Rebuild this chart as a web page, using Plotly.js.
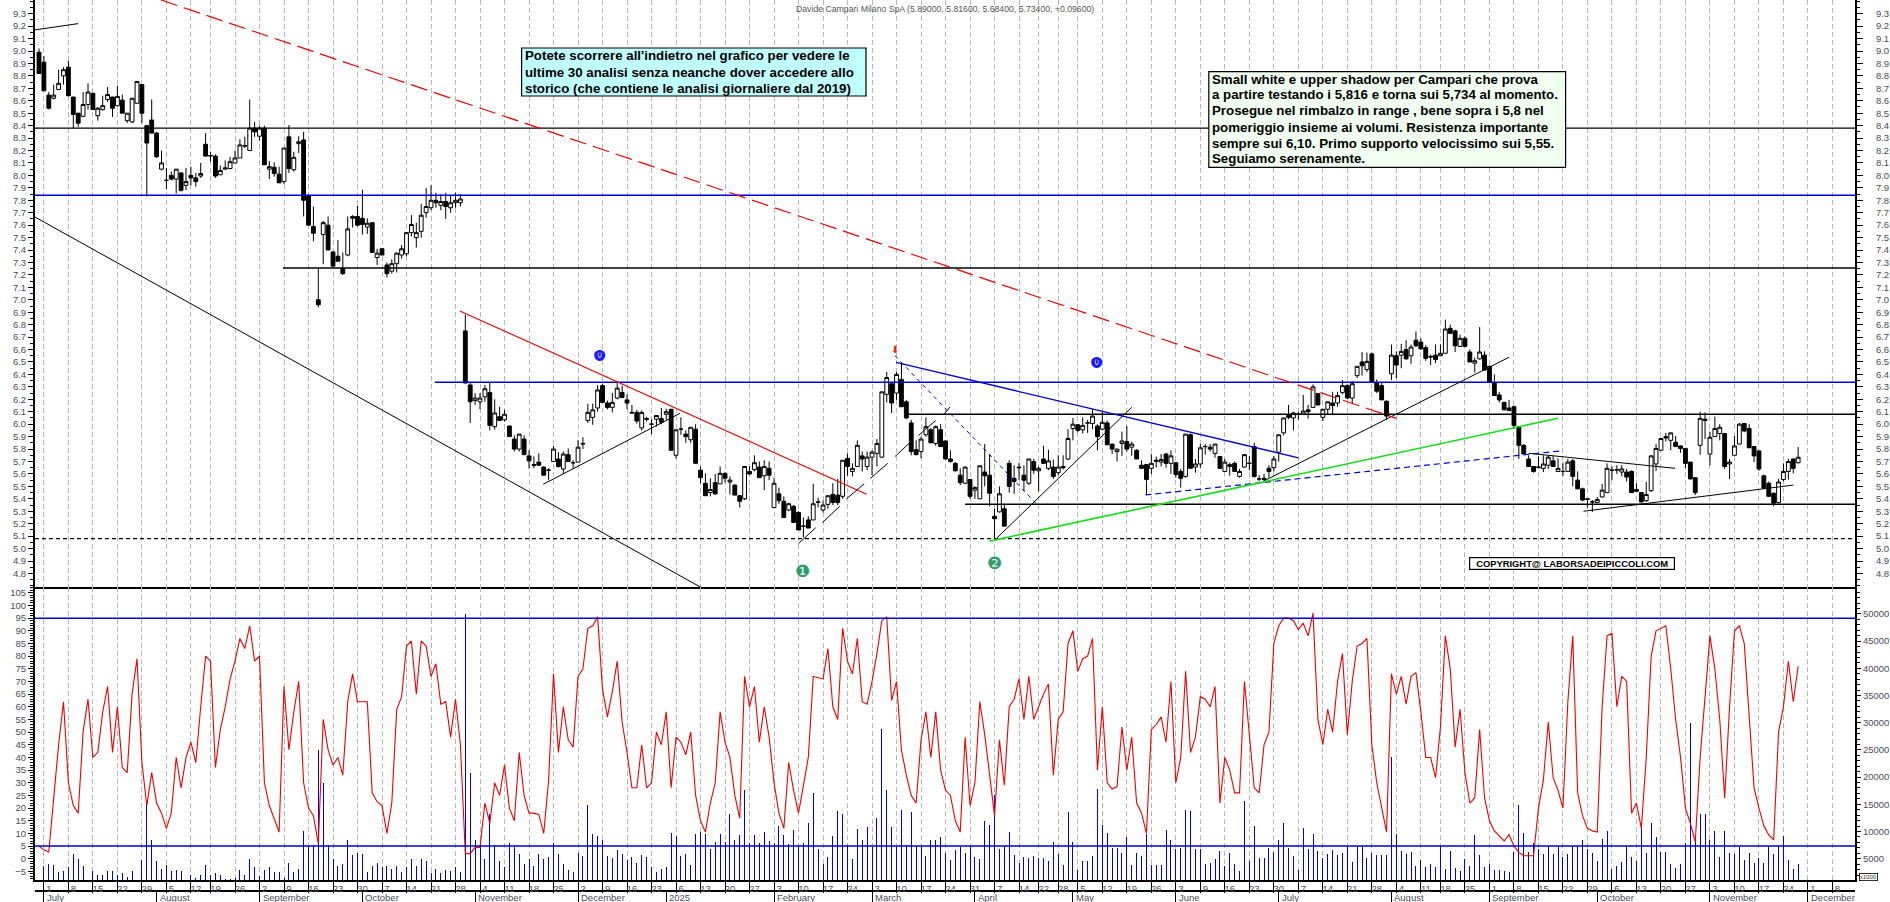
<!DOCTYPE html>
<html><head><meta charset="utf-8">
<script src="https://cdn.plot.ly/plotly-3.0.1.min.js"></script>
<style>html,body{margin:0;padding:0;background:#fff;overflow:hidden}</style>
</head><body><div id="chart" style="width:1890px;height:902px"></div>
<script>
const openP=[8.99,8.91,8.645,8.62,8.69,8.80,8.87,8.63,8.50,8.475,
8.57,8.66,8.48,8.53,8.61,8.63,8.56,8.605,8.44,8.43,
8.58,8.73,8.40,8.445,8.34,8.05,7.96,8.00,7.97,8.02,
7.92,8.00,7.98,7.995,8.25,8.155,8.155,8.005,8.05,8.055,
8.10,8.14,8.235,8.20,8.38,8.315,8.38,8.05,8.065,8.01,
7.95,8.31,8.045,8.255,8.285,7.835,7.59,7.00,7.525,7.60,
7.385,7.35,7.25,7.36,7.655,7.67,7.655,7.585,7.62,7.34,
7.41,7.28,7.23,7.29,7.36,7.37,7.54,7.50,7.55,7.70,
7.74,7.80,7.76,7.79,7.74,7.78,7.78,6.75,6.315,6.19,
6.18,6.22,6.255,5.98,6.06,6.035,5.985,5.88,5.80,5.88,
5.745,5.675,5.695,5.655,5.63,5.70,5.72,5.64,5.755,5.69,
5.695,5.84,6.03,6.055,6.13,6.31,6.17,6.135,6.21,6.255,
6.195,6.095,6.095,5.97,6.045,6.0,6.04,6.045,6.08,6.12,
5.75,5.96,5.92,5.875,5.96,5.63,5.525,5.45,5.53,5.52,
5.605,5.535,5.51,5.425,5.40,5.62,5.635,5.655,5.585,5.645,
5.33,5.44,5.38,5.31,5.34,5.29,5.18,5.23,5.23,5.37,
5.31,5.355,5.435,5.43,5.42,5.725,5.62,5.66,5.745,5.66,
5.735,5.765,5.735,6.24,6.325,6.25,6.36,6.18,6.01,5.795,
5.78,5.915,5.955,5.845,5.955,5.865,5.72,5.685,5.59,5.525,
5.555,5.47,5.40,5.615,5.59,5.26,5.295,5.32,5.685,5.565,
5.655,5.59,5.525,5.70,5.625,5.72,5.645,5.655,5.61,5.66,
5.72,5.965,5.995,5.955,6.01,6.005,5.985,5.96,6.01,5.84,
5.78,5.845,5.86,5.815,5.79,5.67,5.675,5.645,5.70,5.695,
5.76,5.685,5.69,5.62,5.58,5.915,5.655,5.68,5.82,5.815,
5.765,5.74,5.62,5.66,5.685,5.58,5.655,5.685,5.82,5.56,
5.565,5.645,5.65,5.775,5.93,6.07,6.05,6.08,6.08,6.115,
6.135,6.245,6.055,6.12,6.17,6.17,6.255,6.31,6.21,6.39,
6.50,6.44,6.565,6.335,6.31,6.185,6.405,6.55,6.555,6.60,
6.55,6.675,6.66,6.615,6.545,6.555,6.55,6.57,6.77,6.75,
6.625,6.69,6.58,6.49,6.525,6.555,6.465,6.335,6.235,6.175,
6.13,6.14,5.98,5.83,5.72,5.66,5.65,5.645,5.67,5.705,
5.62,5.62,5.62,5.705,5.55,5.48,5.40,5.375,5.37,5.415,
5.45,5.63,5.63,5.615,5.615,5.62,5.475,5.45,5.385,5.465,
5.68,5.79,5.90,5.87,5.855,5.825,5.805,5.695,5.57,5.83,
6.04,5.76,5.90,5.925,5.925,5.68,5.75,5.84,6.005,5.965,
5.82,5.785,5.585,5.525,5.445,5.37,5.555,5.62,5.72,5.69];
const highP=[9.02,8.96,8.67,8.73,8.85,8.87,8.92,8.63,8.50,8.67,
8.74,8.66,8.55,8.64,8.71,8.63,8.72,8.65,8.50,8.62,
8.76,8.73,8.40,8.61,8.35,8.20,8.06,8.03,8.05,8.02,
8.06,8.07,8.02,8.10,8.34,8.19,8.17,8.08,8.12,8.15,
8.20,8.29,8.31,8.61,8.43,8.40,8.40,8.115,8.105,8.07,
8.22,8.405,8.19,8.315,8.35,7.845,7.75,7.25,7.635,7.67,
7.39,7.48,7.38,7.67,7.68,7.755,7.885,7.655,7.62,7.41,
7.415,7.30,7.325,7.38,7.44,7.54,7.68,7.62,7.77,7.90,
7.92,7.86,7.85,7.86,7.84,7.86,7.85,6.88,6.33,6.25,
6.25,6.315,6.337,6.20,6.14,6.115,5.99,5.91,5.92,5.91,
5.79,5.74,5.765,5.66,5.645,5.825,5.775,5.78,5.805,5.71,
5.87,5.895,6.165,6.165,6.315,6.325,6.19,6.25,6.335,6.31,
6.24,6.155,6.115,6.11,6.06,6.04,6.07,6.13,6.125,6.12,
5.955,6.055,5.95,5.975,6.0,5.66,5.605,5.565,5.60,5.66,
5.61,5.58,5.515,5.43,5.66,5.66,5.75,5.70,5.71,5.70,
5.57,5.49,5.42,5.37,5.35,5.30,5.25,5.26,5.52,5.41,
5.385,5.425,5.525,5.56,5.71,5.765,5.685,5.87,5.78,5.78,
5.79,5.88,6.26,6.42,6.325,6.42,6.49,6.195,6.035,5.87,
5.90,6.055,5.97,5.99,6.0,5.87,5.79,5.695,5.645,5.66,
5.56,5.50,5.67,5.84,5.76,5.32,5.50,5.36,5.71,5.67,
5.69,5.67,5.72,5.72,5.66,5.825,5.795,5.715,5.75,5.75,
5.96,6.05,6.0,6.055,6.035,6.12,6.0,6.10,6.03,5.84,
5.80,5.94,5.985,5.86,5.80,5.71,5.68,5.76,5.74,5.76,
5.77,5.79,5.695,5.64,5.92,5.925,5.72,5.84,5.84,5.84,
5.84,5.745,5.72,5.69,5.70,5.64,5.76,5.745,5.85,5.59,
5.60,5.67,5.745,5.915,6.05,6.155,6.10,6.10,6.235,6.155,
6.32,6.25,6.12,6.18,6.26,6.26,6.355,6.32,6.345,6.465,
6.58,6.575,6.575,6.36,6.34,6.19,6.64,6.585,6.645,6.675,
6.64,6.745,6.69,6.635,6.56,6.64,6.64,6.84,6.80,6.76,
6.72,6.705,6.60,6.535,6.78,6.585,6.47,6.40,6.26,6.18,
6.195,6.15,5.985,5.84,5.75,5.66,5.74,5.75,5.745,5.745,
5.725,5.69,5.72,5.72,5.62,5.49,5.405,5.39,5.415,5.52,
5.685,5.66,5.67,5.67,5.64,5.63,5.525,5.45,5.535,5.75,
5.84,5.89,5.93,5.935,5.905,5.83,5.81,5.695,5.57,6.10,
6.095,5.94,6.06,6.0,5.93,5.72,5.905,6.01,6.01,6.0,
5.825,5.79,5.595,5.54,5.45,5.56,5.685,5.72,5.725,5.816];
const lowP=[8.82,8.68,8.53,8.61,8.69,8.73,8.64,8.38,8.39,8.47,
8.53,8.53,8.44,8.52,8.59,8.47,8.56,8.50,8.42,8.42,
8.58,8.42,7.83,8.34,8.14,8.04,7.89,7.96,7.855,7.87,
7.88,7.92,7.91,7.98,8.155,8.11,7.98,8.005,8.05,8.05,
8.10,8.14,8.22,8.20,8.31,8.28,8.085,7.97,7.99,7.94,
7.93,8.02,8.03,8.18,7.67,7.60,7.47,6.94,7.285,7.40,
7.27,7.31,7.20,7.35,7.58,7.59,7.525,7.53,7.38,7.28,
7.36,7.18,7.21,7.22,7.33,7.35,7.51,7.42,7.50,7.66,
7.72,7.74,7.72,7.65,7.70,7.74,7.75,6.33,6.01,6.155,
6.12,6.18,5.95,5.955,6.03,6.02,5.90,5.78,5.78,5.755,
5.645,5.645,5.665,5.59,5.55,5.70,5.65,5.60,5.70,5.645,
5.695,5.80,6.01,5.995,6.10,6.175,6.12,6.095,6.20,6.21,
6.12,6.09,6.005,5.95,6.02,5.92,5.98,6.0,6.035,5.79,
5.725,5.915,5.85,5.85,5.685,5.525,5.425,5.42,5.43,5.52,
5.53,5.435,5.43,5.33,5.39,5.59,5.62,5.57,5.47,5.55,
5.325,5.36,5.25,5.30,5.21,5.15,5.09,5.165,5.23,5.33,
5.29,5.32,5.35,5.35,5.40,5.585,5.58,5.66,5.62,5.63,
5.59,5.66,5.73,6.175,6.09,6.195,6.14,6.04,5.75,5.75,
5.725,5.90,5.85,5.825,5.82,5.72,5.69,5.62,5.51,5.52,
5.40,5.40,5.40,5.50,5.34,5.07,5.29,5.18,5.45,5.44,
5.55,5.46,5.51,5.60,5.46,5.68,5.63,5.56,5.59,5.635,
5.71,5.87,5.935,5.925,5.93,5.96,5.79,5.95,5.83,5.76,
5.70,5.745,5.78,5.745,5.72,5.64,5.43,5.60,5.65,5.66,
5.65,5.60,5.57,5.49,5.57,5.64,5.61,5.65,5.755,5.78,
5.73,5.64,5.615,5.585,5.62,5.57,5.65,5.63,5.57,5.54,
5.54,5.57,5.62,5.70,5.91,6.04,5.95,6.035,6.08,6.045,
6.13,6.15,6.025,6.08,6.08,6.14,6.24,6.20,6.17,6.37,
6.39,6.42,6.33,6.25,6.195,6.035,6.355,6.37,6.45,6.52,
6.485,6.62,6.60,6.51,6.475,6.49,6.55,6.57,6.73,6.58,
6.62,6.62,6.50,6.415,6.52,6.43,6.33,6.23,6.175,6.115,
6.105,5.96,5.72,5.76,5.655,5.61,5.65,5.615,5.64,5.655,
5.615,5.585,5.62,5.50,5.48,5.38,5.33,5.295,5.37,5.41,
5.45,5.55,5.60,5.58,5.54,5.45,5.455,5.37,5.375,5.455,
5.625,5.79,5.86,5.79,5.815,5.77,5.645,5.555,5.43,5.755,
5.88,5.67,5.90,5.87,5.64,5.56,5.75,5.84,5.935,5.81,
5.695,5.625,5.48,5.415,5.34,5.365,5.54,5.555,5.605,5.684];
const closeP=[8.82,8.68,8.54,8.645,8.74,8.85,8.64,8.49,8.42,8.57,
8.67,8.53,8.54,8.56,8.65,8.54,8.635,8.50,8.50,8.62,
8.755,8.50,8.26,8.34,8.15,8.10,7.96,7.97,8.05,7.88,
7.95,7.98,7.95,8.015,8.155,8.16,7.995,8.04,8.06,8.11,
8.14,8.245,8.24,8.38,8.35,8.38,8.085,8.07,8.015,7.94,
8.22,8.055,8.145,8.27,7.80,7.60,7.535,6.96,7.62,7.40,
7.27,7.31,7.21,7.57,7.67,7.60,7.605,7.615,7.38,7.375,
7.36,7.21,7.29,7.375,7.41,7.54,7.605,7.54,7.68,7.75,
7.80,7.78,7.79,7.75,7.78,7.80,7.81,6.33,6.18,6.21,
6.21,6.285,5.99,6.09,6.03,6.08,5.90,5.80,5.92,5.755,
5.705,5.67,5.67,5.59,5.63,5.80,5.66,5.76,5.70,5.69,
5.815,5.845,6.095,6.115,6.275,6.175,6.135,6.175,6.29,6.215,
6.17,6.09,6.025,6.095,6.04,6.0,6.07,6.015,6.10,5.79,
5.955,5.96,5.90,5.975,5.685,5.57,5.425,5.475,5.44,5.605,
5.565,5.55,5.43,5.38,5.66,5.60,5.69,5.57,5.66,5.59,
5.525,5.385,5.25,5.36,5.21,5.15,5.18,5.165,5.36,5.375,
5.35,5.425,5.37,5.37,5.71,5.66,5.645,5.83,5.72,5.735,
5.775,5.845,6.26,6.375,6.17,6.40,6.14,6.05,5.78,5.755,
5.88,5.98,5.85,5.98,5.82,5.72,5.70,5.625,5.53,5.655,
5.42,5.49,5.665,5.585,5.445,5.24,5.44,5.18,5.50,5.54,
5.65,5.55,5.72,5.63,5.645,5.685,5.705,5.58,5.655,5.65,
5.885,6.0,5.95,5.99,6.01,6.065,5.90,6.015,5.835,5.80,
5.80,5.865,5.80,5.84,5.72,5.645,5.555,5.685,5.71,5.715,
5.685,5.745,5.595,5.565,5.92,5.645,5.68,5.81,5.82,5.80,
5.84,5.645,5.695,5.675,5.62,5.62,5.755,5.685,5.58,5.56,
5.555,5.62,5.72,5.915,6.05,6.055,6.09,6.08,6.105,6.10,
6.30,6.155,6.12,6.18,6.15,6.23,6.31,6.21,6.325,6.465,
6.47,6.505,6.34,6.265,6.195,6.065,6.555,6.475,6.585,6.525,
6.62,6.63,6.605,6.53,6.54,6.52,6.57,6.765,6.73,6.63,
6.69,6.625,6.50,6.51,6.58,6.435,6.335,6.23,6.195,6.115,
6.11,5.99,5.83,5.76,5.66,5.62,5.655,5.68,5.735,5.66,
5.645,5.62,5.695,5.58,5.48,5.39,5.395,5.375,5.395,5.47,
5.645,5.63,5.635,5.64,5.575,5.45,5.46,5.375,5.435,5.745,
5.805,5.885,5.89,5.93,5.82,5.805,5.685,5.56,5.45,6.047,
6.03,5.895,5.965,5.975,5.66,5.695,5.825,6.0,5.945,5.81,
5.745,5.64,5.485,5.42,5.365,5.535,5.62,5.70,5.645,5.734];
const oscillator=[5,3.5,2.7,25,45,62,30,21,18,50,
63,40,42,58,68,42,60,36,34,65,
79,38,21,34,22,18,12,18,40,28,
40,46,38,60,80,78,36,51,60,71,
78,87,83,92,78,80,30,21,16,10.5,
68,43,58,70,30,20,17,6,55,43,
37,40,33,62,73,62,62,62,26,22.5,
21,10,22,59,64,84,86,65,86,84,
72,77,61,62,48,63,45,2,2,4.5,
4.5,22,14,30,25,37,20,15,42,25,
18,18,17.5,10,31,73,42,60,47,44,
72,75,91,92,95.5,67,56,66,78,54,
42,28,28,45,28,30,50,45,58,28,
48,46,41,50,25,15,10.5,22,30,58,
46,40,25,16,72,60,68,46,60,48,
30,18,12,38,27,18,29,40,72,71.5,
71,83,60,55,91,78,73,87,62,61,
70,81,94,95.5,62.5,70,43,33,25,22,
47,58,40,58,35,27,25,15,10.5,48,
21,30,62,49,34,17,47,29,60,63,
71,55,72,55,60,65,69,33,55,58,
85,90,74,79,80,87,35,60,30,27.5,
28.5,52,35,48,22,18,10,51,53,56,
46,70,30,40,74,42,48,64,63,60,
68,22,40,35,26,26,70,49,28,26,
45,50,85,92,95,95,94,90.5,93,88,
97,55,45,59,50,70,81,49,70,84,
85,87,45,30,20,10.5,73,65,72,61,
72,73.5,58,40,40,32,52,88,75,44,
59,34,22,24,51,24,15,11,9,7,
9.5,5,2.5,1.2,1.2,1.2,20,31,54,32,
27,20,62,88,26,17,12,11,10.5,60,
88,89,60,72,70,18,22,12,40,80,
90,91,92,75,55,40,20,14,6.7,40,
65,88,75,55,24,60,90,92,85,55,
28,20,13,9.4,7.4,50,60,78,62,76];
const volumes=[5000,3700,4100,3800,2600,2700,3500,5900,4900,3650,
2700,2800,2000,2000,2700,2700,2000,2400,1700,2700,
2300,4750,15200,8400,4600,3100,3800,2700,2900,2700,
2000,2000,1400,2000,3800,2000,2300,2000,1200,1300,
1400,3000,2000,5000,3500,1800,3000,3500,2500,2500,
1500,4300,2500,3200,10150,7500,7500,25000,18850,7500,
5000,3700,4000,8500,5600,6000,5800,2600,3600,4300,
3400,3700,3100,3600,2600,3400,5000,3600,5000,4600,
2400,3100,2400,3000,2800,3500,2600,50000,20700,8500,
7500,5000,13300,7500,4600,3400,7800,7500,5900,4000,
5000,3700,5800,5000,5300,7800,5800,4000,3000,2600,
6000,5500,14900,9500,9200,8500,5500,5100,6600,5800,
4750,5250,4260,5600,5400,3500,2600,3200,3400,9700,
9200,5500,5900,3800,9500,9900,9500,6700,8000,9500,
8100,13200,8400,9350,17600,7900,9350,7900,9850,8250,
7900,11000,9350,7700,10300,7500,7800,11600,17100,6700,
4100,5400,9200,13800,13200,7450,4900,10450,8400,10900,
7200,12400,28800,17600,10900,7200,14000,7500,13600,7400,
7400,5500,8400,8400,9000,6100,4750,6600,7100,6100,
7300,5400,4900,11900,11200,16700,6800,7400,10000,5700,
4300,5400,5200,5500,5100,5200,4600,8100,5900,3800,
13500,8100,2900,4600,4500,5500,17800,11200,9800,6900,
7000,6000,9000,3800,6000,5500,9500,3800,3800,3800,
10300,8400,6700,7000,14000,13800,6800,6800,4100,4300,
4900,6400,3650,6100,4100,2700,15600,4600,11000,5100,
5100,7000,6300,8500,11600,7000,5500,2900,10600,6800,
9500,6500,5100,5800,6600,5700,6100,7400,4400,7300,
7300,5200,6100,5700,5700,5700,23750,9500,6400,5800,
6200,3700,4750,3500,4100,3500,7300,3200,6400,3350,
2700,4900,3650,9350,5700,3500,4000,2900,2900,2700,
2600,6300,14900,9700,6300,7800,6700,5800,7300,5800,
7300,5400,5800,7300,7300,8500,6700,6000,4600,8700,
10100,3200,3650,4450,7300,5400,4600,11500,6000,11600,
9000,6300,6300,4100,3300,4100,7800,30000,8400,13300,
13300,8400,10100,5400,10100,6000,5800,7200,4750,6100,
4300,5100,4300,7300,5900,7300,9200,4750,3200,4000];

const weekTicks=[1,6,11,16,21,26,31,35,40,45,50,55,60,65,70,75,80,85,90,95,100,105,110,115,120,125,130,135,140,145,150,155,160,165,170,175,180,185,190,195,200,204,208,212,217,222,227,232,237,242,247,252,257,262,267,272,277,282,286,291,296,301,306,311,316,321,326,331,336,341,346,351,356,361,366];
const weekLabels=['1','8','15','22','29','5','12','19','26','2','9','16','23','30','7','14','21','28','4','11','18','25','2','9','16','23','6','13','20','27','3','10','17','24','3','10','17','24','31','7','14','22','28','5','12','19','26','3','9','16','23','30','7','14','21','28','4','11','18','25','1','8','15','22','29','6','13','20','27','3','10','17','24','1','8'];
const monthTicks=[1,24,45,66,89,110,128,150,170,191,211,232,253,276,296,318,341,361];
const monthLabels=['July','August','September','October','November','December','2025','February','March','April','May','June','July','August','September','October','November','December'];
const priceTicks=[4.8,4.9,5.0,5.1,5.2,5.3,5.4,5.5,5.6,5.7,5.8,5.9,6.0,6.1,6.2,6.3,6.4,6.5,6.6,6.7,6.8,6.9,7.0,7.1,7.2,7.3,7.4,7.5,7.6,7.7,7.8,7.9,8.0,8.1,8.2,8.3,8.4,8.5,8.6,8.7,8.8,8.9,9.0,9.1,9.2,9.3];
const oscTicks=[-5,0,5,10,15,20,25,30,35,40,45,50,55,60,65,70,75,80,85,90,95,100,105];
const volTicks=[5000,10000,15000,20000,25000,30000,35000,40000,45000,50000];

const END=370.6, START=-0.816;
const blackLevels=[[START,8.38],[49.8,7.255],[177.3,6.08],[189,5.356]];
const blueLevels=[[START,7.84],[80.8,6.337]];
const dashedLevel=5.08;
const oscLevels=[5,95];
const blackSegments=[[-0.816,9.17,8,9.22],[-0.816,7.665,135,4.69],[102.9,5.517,130.8,6.087],[155,5.04,158.5,5.167],[159.9,5.21,163.4,5.34],[164.8,5.40,168.4,5.52],[169.7,5.565,173.2,5.685],[174.7,5.74,177.6,5.847],[179.5,5.91,183,6.03],[184.7,6.08,185.9,6.138],[195.1,5.07,223,6.136],[250,5.544,300,6.538],[315.2,5.30,358,5.51],[304,5.766,333.9,5.645]];
const redSolid=[[85.9,6.91,168.9,5.437]];
const redDashed=[[24.9,9.41,277,6.047]];
const blueSolid=[[174.9,6.497,257,5.73]];
const blueDashThin=[[174.7,6.55,203.6,5.358]];
const blueDashLow=[[225.8,5.431,311,5.787]];
const greenSolid=[[194,5.06,310,6.047]];
const noteCyanLines=["Potete scorrere all'indietro nel grafico per vedere le","ultime 30 analisi senza neanche dover accedere allo","storico (che contiene le analisi giornaliere dal 2019)"];
const noteGreenLines=["Small white e upper shadow per Campari che prova","a partire testando i 5,816 e torna sui 5,734 al momento.","Prosegue nel rimbalzo in range , bene sopra i 5,8 nel","pomeriggio insieme ai volumi. Resistenza importante","sempre sui 6,10. Primo supporto velocissimo sui 5,55.","Seguiamo serenamente."];

const idx=openP.map((_,i)=>i);
function segs(list){const x=[],y=[];list.forEach(s=>{x.push(s[0],s[2],null);y.push(s[1],s[3],null);});return {x,y};}
function levels(list){return segs(list.map(l=>[l[0],l[1],END,l[1]]));}
function lineTrace(d,color,width,dash){return {type:'scatter',mode:'lines',x:d.x,y:d.y,xaxis:'x',yaxis:'y3',line:{color,width,dash:dash||'solid'},hoverinfo:'skip',showlegend:false};}

const traces=[
 {type:'candlestick',x:idx,open:openP,high:highP,low:lowP,close:closeP,xaxis:'x',yaxis:'y',whiskerwidth:0,
  increasing:{line:{color:'#000',width:1},fillcolor:'#fff'},decreasing:{line:{color:'#000',width:1},fillcolor:'#000'},hoverinfo:'skip',showlegend:false},
 lineTrace(levels(blackLevels),'#000',1.4),
 lineTrace(levels(blueLevels),'#0000d8',1.4),
 lineTrace(levels([[START,dashedLevel]]),'#000',1.3,'4px,3px'),
 lineTrace(segs(blackSegments),'#000',1),
 lineTrace(segs(redSolid),'#f00000',1.2),
 lineTrace(segs(redDashed),'#f00000',1.2,'17px,7px'),
 lineTrace(segs(blueSolid),'#0000d8',1.3),
 lineTrace(segs(blueDashThin),'#0000d8',1,'4px,4px'),
 lineTrace(segs(blueDashLow),'#0000d8',1.2,'6px,4px'),
 lineTrace(segs(greenSolid),'#10e010',1.6),
 {type:'bar',x:idx,y:volumes,xaxis:'x2',yaxis:'y2',width:0.2,marker:{color:'#0000e6',line:{width:0}},hoverinfo:'skip',showlegend:false},
 {type:'scatter',mode:'lines',x:idx,y:oscillator,xaxis:'x2',yaxis:'y4',line:{color:'#f00000',width:1.1},hoverinfo:'skip',showlegend:false},
 {type:'scatter',mode:'lines',x:[START,END,null,START,END],y:[oscLevels[0],oscLevels[0],null,oscLevels[1],oscLevels[1]],xaxis:'x2',yaxis:'y4',line:{color:'#0000d8',width:1.5},hoverinfo:'skip',showlegend:false},
 {type:'scatter',mode:'markers',x:monthTicks,y:monthTicks.map(()=>7),xaxis:'x3',yaxis:'y',marker:{opacity:0,size:1},hoverinfo:'skip',showlegend:false}
];

const W=1890,H=902,L=35,R=1855,PH=891;
const px=x=>(x-L)/(R-L), py=y=>1-y/PH;
const sansFam='"Liberation Sans",Arial,sans-serif';
const tickFont={family:sansFam,size:9.5,color:'#4c4c58'};
const xBase={range:[START,END],tickmode:'array',tickvals:weekTicks,showgrid:true,gridcolor:'#b8b8b8',griddash:'5px,3px',gridwidth:1,zeroline:false};
const yBase={zeroline:false,showgrid:false,showline:true,linecolor:'#000',linewidth:2,ticks:'outside',tickcolor:'#000',ticklen:5,tickwidth:1,tickfont:tickFont};
const boxBlack={showarrow:false,xref:'paper',yref:'paper',xanchor:'left',yanchor:'top',align:'left',valign:'top',bordercolor:'#000',borderwidth:1.2,borderpad:0};
const noteFont={family:sansFam,size:13.3,color:'#000',weight:700};
function noteRect(x0,y0,x1,y1,fill){return {type:'rect',layer:'above',xref:'paper',yref:'paper',x0:px(x0),x1:px(x1),y0:py(y0),y1:py(y1),fillcolor:fill,line:{color:'#000',width:1.2}};}
function noteText(lines,x,yFirst,step){return lines.map((t,k)=>({showarrow:false,xref:'paper',yref:'paper',x:px(x),y:py(yFirst+k*step),xanchor:'left',yanchor:'middle',align:'left',text:t,font:noteFont}));}

const shapes=[noteRect(521.6,48,866,96,'#c0ffff'),noteRect(1208.8,71.7,1565.6,167.3,'#f0fff0')];
const annotations=[
 ...noteText(noteCyanLines,523,55.5,16.6),
 ...noteText(noteGreenLines,1210,79,16),
 {...boxBlack,x:px(1468.7),y:py(556.7),width:204,height:11,bgcolor:'#fff',align:'center',valign:'middle',text:'COPYRIGHT@ LABORSADEIPICCOLI.COM',font:{family:sansFam,size:9.4,color:'#000',weight:700}},
 {...boxBlack,x:px(1859),y:py(873),width:17,height:6,bgcolor:'#fff',borderwidth:0.8,align:'center',valign:'middle',text:'x1000',font:{family:sansFam,size:6,color:'#333'}},
 {showarrow:false,xref:'paper',yref:'paper',x:px(945),y:py(9),xanchor:'center',yanchor:'middle',text:'Davide Campari Milano SpA (5.89000, 5.81600, 5.68400, 5.73400, +0.09600)',font:{family:sansFam,size:8.7,color:'#555'}},
 {showarrow:false,xref:'x',yref:'y',x:114.4,y:6.56,xanchor:'center',yanchor:'middle',text:'⓿',font:{family:'"DejaVu Sans"',size:11,color:'#1a1aff'}},
 {showarrow:false,xref:'x',yref:'y',x:215.9,y:6.5,xanchor:'center',yanchor:'middle',text:'⓿',font:{family:'"DejaVu Sans"',size:11,color:'#1a1aff'}},
 {showarrow:false,xref:'x',yref:'y',x:155.9,y:4.82,xanchor:'center',yanchor:'middle',text:'❶',font:{family:'"DejaVu Sans"',size:17,color:'#2e9e6b'}},
 {showarrow:false,xref:'x',yref:'y',x:195,y:4.887,xanchor:'center',yanchor:'middle',text:'❷',font:{family:'"DejaVu Sans"',size:17,color:'#2e9e6b'}},
 {showarrow:false,xref:'x',yref:'y',x:174.7,y:6.6,xanchor:'center',yanchor:'middle',text:'⬇',font:{family:'"DejaVu Sans"',size:10,color:'#f02000'}}
];
monthTicks.forEach((t,k)=>annotations.push({showarrow:false,xref:'x',yref:'paper',x:t,y:-6/PH,xanchor:'left',yanchor:'middle',xshift:1,text:monthLabels[k],font:tickFont}));

const layout={
 width:W,height:H,margin:{l:L,r:W-R,t:0,b:H-PH,pad:0},paper_bgcolor:'#fff',plot_bgcolor:'#fff',showlegend:false,
 boxgap:0.22,boxgroupgap:0,bargap:0,hovermode:false,dragmode:false,shapes,
 xaxis:{...xBase,anchor:'y',rangeslider:{visible:false},showticklabels:false,ticks:'',showline:true,linecolor:'#000',linewidth:2,fixedrange:true},
 xaxis2:{...xBase,anchor:'y2',matches:'x',ticktext:weekLabels,ticks:'outside',ticklen:11,tickcolor:'#000',tickwidth:1,showline:true,linecolor:'#000',linewidth:2,tickfont:tickFont,ticklabelshift:5,ticklabelstandoff:-12,tickangle:0,fixedrange:true},
 xaxis3:{range:[START,END],overlaying:'x',anchor:'free',position:0,side:'bottom',tickmode:'array',tickvals:monthTicks,showticklabels:false,ticks:'outside',ticklen:11,tickcolor:'#000',tickwidth:1,showline:true,linecolor:'#000',linewidth:2,showgrid:false,zeroline:false,fixedrange:true},
 yaxis:{...yBase,domain:[py(587),1],range:[4.691,9.41],side:'left',anchor:'x',tickmode:'array',tickvals:priceTicks,tickformat:'.1f',minor:{dtick:0.05,ticks:'outside',ticklen:3,tickcolor:'#000',tickwidth:1,showgrid:false},fixedrange:true},
 yaxis3:{...yBase,overlaying:'y',range:[4.691,9.41],side:'right',anchor:'x',tickmode:'array',tickvals:priceTicks,tickformat:'.1f',ticklen:6,ticklabelstandoff:11,minor:{dtick:0.05,ticks:'outside',ticklen:3,tickcolor:'#000',tickwidth:1,showgrid:false},fixedrange:true},
 yaxis2:{...yBase,domain:[py(880),py(587)],range:[1085,54950],side:'right',anchor:'x2',tickmode:'array',tickvals:volTicks,tickformat:'d',ticklen:4,minor:{dtick:1000,ticks:'outside',ticklen:2.5,tickcolor:'#000',tickwidth:1,showgrid:false},fixedrange:true},
 yaxis4:{...yBase,overlaying:'y2',range:[-8.4,107.3],side:'left',anchor:'x2',tickmode:'array',tickvals:oscTicks,minor:{dtick:1,ticks:'outside',ticklen:3,tickcolor:'#000',tickwidth:1,showgrid:false},fixedrange:true},
 annotations
};
Plotly.newPlot('chart',traces,layout,{displayModeBar:false,staticPlot:true});
</script></body></html>
